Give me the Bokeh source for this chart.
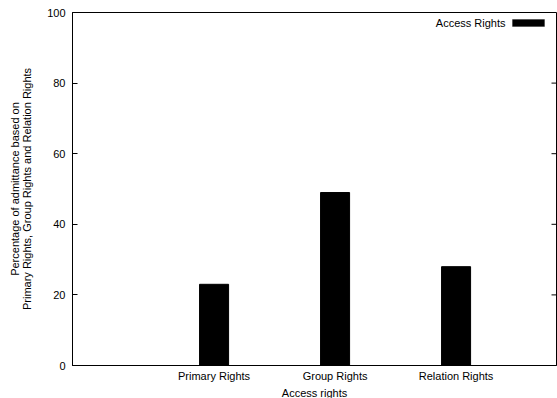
import math
from bokeh.plotting import figure
from bokeh.models import (Range1d, FixedTicker, Label, BoxAnnotation, ColumnDataSource,
                          Title)
from bokeh.embed import file_html
from bokeh.resources import INLINE

# Data
categories = ["Primary Rights", "Group Rights", "Relation Rights"]
values = [23, 49, 28]
y_ticks = [0, 20, 40, 60, 80, 100]
series_name = "Access Rights"
x_title = "Access rights"
y_title = "Percentage of admittance based on\nPrimary Rights, Group Rights and Relation Rights"

FONT = "Liberation Sans"
FS = "11px"

positions = list(range(len(categories)))
src = ColumnDataSource(dict(x=positions, top=values))

W, H = 557, 398
x_lo, x_hi = -1.17, 2.83
p = figure(width=W, height=H, output_backend="svg", toolbar_location=None,
           x_range=Range1d(x_lo, x_hi), y_range=Range1d(0, 100),
           min_border_left=72, min_border_right=1, min_border_top=12,
           min_border_bottom=33)

p.vbar(x="x", top="top", bottom=0, width=0.24, source=src,
       fill_color="black", line_color="black")

p.grid.visible = False
p.outline_line_color = "black"
p.outline_line_width = 1
p.background_fill_color = "white"
p.border_fill_color = "white"

# x axis: category names, no tick marks
xa = p.xaxis[0]
xa.ticker = FixedTicker(ticks=positions)
xa.major_label_overrides = {i: c for i, c in zip(positions, categories)}
xa.major_tick_in = 0
xa.major_tick_out = 0
xa.minor_tick_line_color = None
xa.major_label_standoff = 4
xa.major_label_text_font = FONT
xa.major_label_text_font_size = FS
xa.major_label_text_color = "black"
xa.axis_line_color = "black"

# x axis title, centred under the tick labels
p.add_layout(Title(text=x_title, align="center", text_font=FONT, text_font_size=FS,
                   text_font_style="normal", text_color="black", standoff=0,
                   offset=0), "below")

# y axis: inward ticks
ya = p.yaxis[0]
ya.ticker = FixedTicker(ticks=y_ticks)
ya.major_tick_in = 5
ya.major_tick_out = 0
ya.minor_tick_line_color = None
ya.major_label_standoff = 7
ya.axis_label = y_title
ya.axis_label_standoff = 11
ya.axis_label_text_font_style = "normal"
ya.axis_label_text_font = FONT
ya.axis_label_text_font_size = FS
ya.axis_label_text_line_height = 1.0
ya.axis_label_text_color = "black"
ya.major_label_text_font = FONT
ya.major_label_text_font_size = FS
ya.major_label_text_color = "black"
ya.axis_line_color = "black"

# mirrored inward ticks on the right edge
p.ray(x=[x_hi] * len(y_ticks), y=y_ticks, length=5, length_units="screen",
      angle=math.pi, line_color="black", line_width=1)

# key in the top-right corner: text followed by a filled sample
p.add_layout(Label(x=433, y=343, x_units="screen", y_units="screen",
                   text=series_name, text_align="right", text_baseline="middle",
                   text_font=FONT, text_font_size=FS, text_color="black"))
p.add_layout(BoxAnnotation(left=440, right=472, top=346, bottom=339,
                           left_units="screen", right_units="screen",
                           top_units="screen", bottom_units="screen",
                           fill_color="black", fill_alpha=1, line_color="black"))

open("out.html", "w").write(file_html(p, INLINE))
